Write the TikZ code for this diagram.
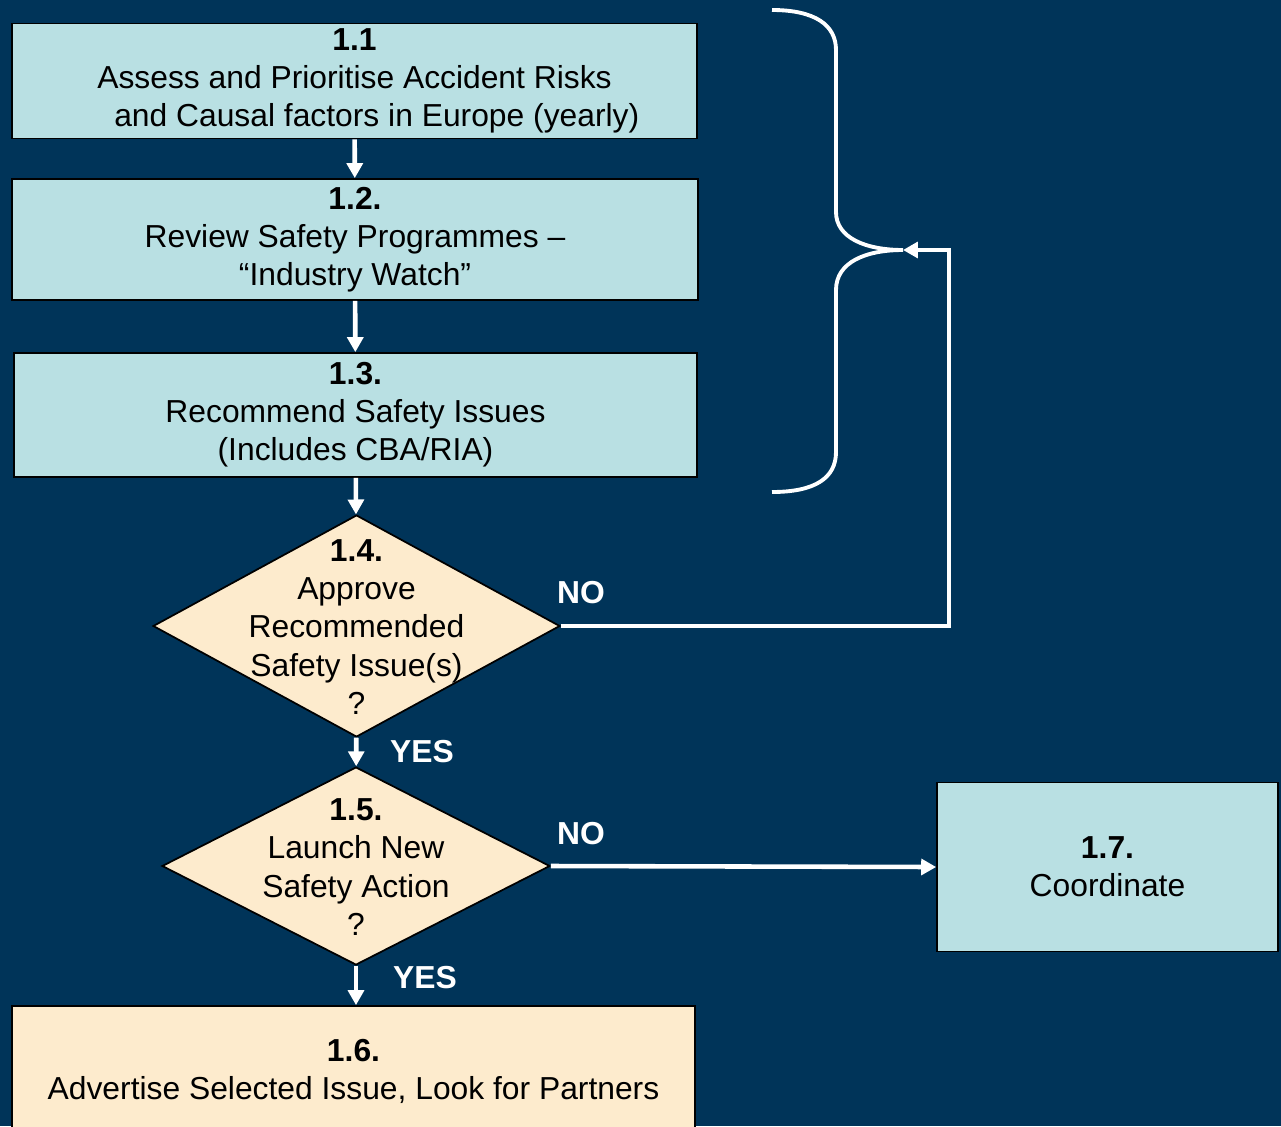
\documentclass[tikz,border=0pt]{standalone}
\usepackage{fontspec}
\setmainfont{Liberation Sans}
\usetikzlibrary{shapes.geometric,arrows.meta}
\definecolor{navy}{HTML}{003459}
\definecolor{paleblue}{HTML}{B9E0E3}
\definecolor{sand}{HTML}{FDEBCD}

\begin{document}
\begin{tikzpicture}[x=0.02cm, y=-0.02cm,
  stage/.style={draw=black, line width=1pt, fill=paleblue, inner sep=0pt, align=center, font=\fontsize{18.1}{21.7}\selectfont},
  ask/.style={diamond, draw=black, line width=1pt, fill=sand, inner sep=0pt},
  qtext/.style={align=center, inner sep=0pt, font=\fontsize{18.1}{21.7}\selectfont},
  answer/.style={text=white, inner sep=0pt, font=\fontsize{18.1}{21.7}\selectfont\bfseries},
  flow/.style={draw=white, line width=2.6pt, -{Triangle[width=9pt,length=8.5pt]}},
  brace/.style={draw=white, line width=2.2pt}]
\useasboundingbox (0,0) rectangle (1281,1126);
\fill[navy] (0,0) rectangle (1281,1126);
%review stages
\node[stage, minimum width=13.7cm, minimum height=2.3cm] (b11) at (354.5,81) {\textbf{1.1}\\Assess and Prioritise Accident Risks\\\hspace*{1.4em}and Causal factors in Europe (yearly)};
\node[stage, minimum width=13.72cm, minimum height=2.42cm] (b12) at (355,239.5) {\textbf{1.2.}\\Review Safety Programmes –\\“Industry Watch”};
\node[stage, minimum width=13.66cm, minimum height=2.48cm] (b13) at (355.5,415) {\textbf{1.3.}\\Recommend Safety Issues\\(Includes CBA/RIA)};
%decisions
\node[ask, minimum width=8.14cm, minimum height=4.44cm] (d14) at (356.5,626) {};
\node[qtext] (q14) at (356.5,627) {\textbf{1.4.}\\Approve\\Recommended\\Safety Issue(s)\\?};
\node[ask, minimum width=7.76cm, minimum height=3.96cm] (d15) at (356,866) {};
\node[qtext] (q15) at (356,867) {\textbf{1.5.}\\Launch New\\Safety Action\\?};
%outcomes
\node[stage, fill=sand, minimum width=13.66cm, minimum height=2.6cm] (b16) at (353.5,1071) {\textbf{1.6.}\\Advertise Selected Issue, Look for Partners};
\node[stage, minimum width=6.82cm, minimum height=3.38cm] (b17) at (1107.5,867) {\textbf{1.7.}\\Coordinate};
\node[answer] (no1) at (581,593) {NO};
\node[answer] (yes1) at (422,752) {YES};
\node[answer] (no2) at (581,834) {NO};
\node[answer] (yes2) at (425,978) {YES};
%connectors
\draw[flow] (b11) -- (b12);
\draw[flow] (b12) -- (b13);
\draw[flow] (b13) -- (d14);
\draw[flow] (d14) -- (d15);
\draw[flow] (d15.south) -- (d15.south |- b16.north);
\draw[flow] (d15.east) -- (b17.west);
%brace and loop back
\coordinate (tip) at (903,250);
\draw[brace] (772,10) .. controls (815,10) and (836,25) .. (836,50) -- (836,212) .. controls (836,238) and (866,250) .. (tip) .. controls (866,250) and (836,262) .. (836,290) -- (836,452) .. controls (836,478) and (815,492) .. (772,492);
\draw[flow] (d14.east) -- ++(388,0) |- (tip);
\end{tikzpicture}
\end{document}
